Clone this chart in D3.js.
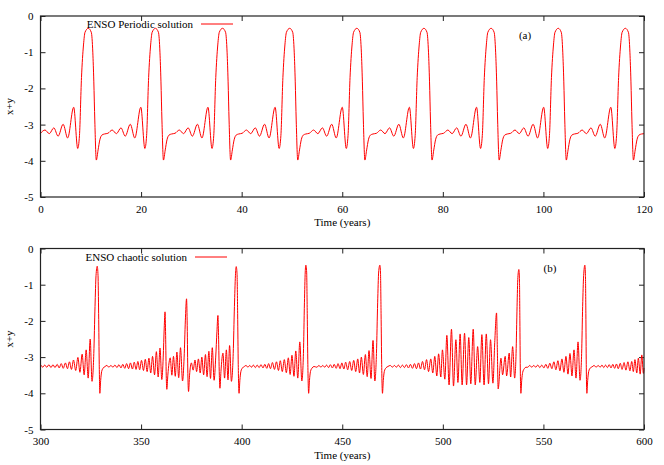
<!DOCTYPE html>
<html>
<head>
<meta charset="utf-8">
<script src="https://cdn.jsdelivr.net/npm/d3@7"></script>
<style>
  body { margin: 0; background: #fff; }
  text { font-family: "Liberation Serif", "Times New Roman", serif; font-size: 11px; fill: #000; }
</style>
</head>
<body>
<div id="chart"></div>
<script>
// ENSO periodic solution, [time (years), x+y]
var periodic = [
  [0,-3.24],[0.9,-3.15],[1.75,-3.25],[2.65,-3.09],[3.5,-3.32],[4.5,-2.99],[5.4,-3.37],[6.6,-2.52],[7.4,-3.66],[7.75,-3.30],[8.15,-1.70],[8.55,-0.80],[8.85,-0.45],[9.5,-0.34],[10.1,-0.45],[10.4,-1.00],[10.6,-1.80],[10.8,-2.90],
  [11.1,-3.98],[11.45,-3.70],[11.8,-3.42],[12.2,-3.29],[12.7,-3.26],[13.4,-3.24],[14.25,-3.15],[15.1,-3.25],[16.0,-3.09],[16.85,-3.32],[17.85,-2.99],[18.75,-3.37],[19.95,-2.52],[20.75,-3.66],[21.1,-3.30],[21.5,-1.70],[21.9,-0.80],[22.2,-0.45],[22.85,-0.34],[23.45,-0.45],[23.75,-1.00],[23.95,-1.80],[24.15,-2.90],
  [24.45,-3.98],[24.8,-3.70],[25.15,-3.42],[25.55,-3.29],[26.05,-3.26],[26.75,-3.24],[27.6,-3.15],[28.45,-3.25],[29.35,-3.09],[30.2,-3.32],[31.2,-2.99],[32.1,-3.37],[33.3,-2.52],[34.1,-3.66],[34.45,-3.30],[34.85,-1.70],[35.25,-0.80],[35.55,-0.45],[36.2,-0.34],[36.8,-0.45],[37.1,-1.00],[37.3,-1.80],[37.5,-2.90],
  [37.8,-3.98],[38.15,-3.70],[38.5,-3.42],[38.9,-3.29],[39.4,-3.26],[40.1,-3.24],[40.95,-3.15],[41.8,-3.25],[42.7,-3.09],[43.55,-3.32],[44.55,-2.99],[45.45,-3.37],[46.65,-2.52],[47.45,-3.66],[47.8,-3.30],[48.2,-1.70],[48.6,-0.80],[48.9,-0.45],[49.55,-0.34],[50.15,-0.45],[50.45,-1.00],[50.65,-1.80],[50.85,-2.90],
  [51.15,-3.98],[51.5,-3.70],[51.85,-3.42],[52.25,-3.29],[52.75,-3.26],[53.45,-3.24],[54.3,-3.15],[55.15,-3.25],[56.05,-3.09],[56.9,-3.32],[57.9,-2.99],[58.8,-3.37],[60.0,-2.52],[60.8,-3.66],[61.15,-3.30],[61.55,-1.70],[61.95,-0.80],[62.25,-0.45],[62.9,-0.34],[63.5,-0.45],[63.8,-1.00],[64.0,-1.80],[64.2,-2.90],
  [64.5,-3.98],[64.85,-3.70],[65.2,-3.42],[65.6,-3.29],[66.1,-3.26],[66.8,-3.24],[67.65,-3.15],[68.5,-3.25],[69.4,-3.09],[70.25,-3.32],[71.25,-2.99],[72.15,-3.37],[73.35,-2.52],[74.15,-3.66],[74.5,-3.30],[74.9,-1.70],[75.3,-0.80],[75.6,-0.45],[76.25,-0.34],[76.85,-0.45],[77.15,-1.00],[77.35,-1.80],[77.55,-2.90],
  [77.85,-3.98],[78.2,-3.70],[78.55,-3.42],[78.95,-3.29],[79.45,-3.26],[80.15,-3.24],[81.0,-3.15],[81.85,-3.25],[82.75,-3.09],[83.6,-3.32],[84.6,-2.99],[85.5,-3.37],[86.7,-2.52],[87.5,-3.66],[87.85,-3.30],[88.25,-1.70],[88.65,-0.80],[88.95,-0.45],[89.6,-0.34],[90.2,-0.45],[90.5,-1.00],[90.7,-1.80],[90.9,-2.90],
  [91.2,-3.98],[91.55,-3.70],[91.9,-3.42],[92.3,-3.29],[92.8,-3.26],[93.5,-3.24],[94.35,-3.15],[95.2,-3.25],[96.1,-3.09],[96.95,-3.32],[97.95,-2.99],[98.85,-3.37],[100.05,-2.52],[100.85,-3.66],[101.2,-3.30],[101.6,-1.70],[102.0,-0.80],[102.3,-0.45],[102.95,-0.34],[103.55,-0.45],[103.85,-1.00],[104.05,-1.80],[104.25,-2.90],
  [104.55,-3.98],[104.9,-3.70],[105.25,-3.42],[105.65,-3.29],[106.15,-3.26],[106.85,-3.24],[107.7,-3.15],[108.55,-3.25],[109.45,-3.09],[110.3,-3.32],[111.3,-2.99],[112.2,-3.37],[113.4,-2.52],[114.2,-3.66],[114.55,-3.30],[114.95,-1.70],[115.35,-0.80],[115.65,-0.45],[116.3,-0.34],[116.9,-0.45],[117.2,-1.00],[117.4,-1.80],[117.6,-2.90],
  [117.9,-3.98],[118.25,-3.70],[118.6,-3.42],[119.0,-3.29],[119.5,-3.26],[120,-3.25]
];

// ENSO chaotic solution, [time (years), x+y]
var chaotic = [
  [300,-3.25],[300.1,-3.22],[301.1,-3.28],[302.1,-3.22],[303.1,-3.28],[304.2,-3.21],[305.2,-3.29],[306.2,-3.21],[307.2,-3.29],[308.3,-3.20],[309.3,-3.30],[310.3,-3.18],[311.3,-3.31],
  [312.4,-3.16],[313.4,-3.32],[314.4,-3.13],[315.4,-3.34],[316.4,-3.08],[317.5,-3.37],[318.6,-3.01],[319.6,-3.42],[320.7,-2.92],[321.7,-3.49],[322.7,-2.80],[323.7,-3.58],[324.7,-2.50],[325.6,-3.67],
  [326.5,-2.90],[327.1,-1.60],[327.6,-0.75],[328.2,-0.49],[328.6,-0.75],[328.9,-1.80],[329.2,-3.20],[329.5,-4.00],[329.9,-3.65],[330.4,-3.40],[331.2,-3.30],[332.1,-3.26],
  [333.0,-3.23],[334.0,-3.28],[335.0,-3.23],[336.0,-3.28],[337.0,-3.22],[338.0,-3.29],[339.0,-3.21],[340.0,-3.30],[340.9,-3.20],[341.9,-3.31],[342.8,-3.18],[343.8,-3.32],[344.7,-3.16],[345.7,-3.33],
  [346.6,-3.14],[347.5,-3.34],[348.4,-3.12],[349.3,-3.35],[350.2,-3.09],[351.2,-3.37],[352.1,-3.06],[353.0,-3.40],[353.9,-3.03],[354.8,-3.44],[355.7,-2.98],[356.7,-3.49],[357.6,-2.85],[358.5,-3.55],[359.4,-2.75],[360.3,-3.62],
  [361.0,-3.00],[361.5,-2.20],[361.9,-1.75],[362.2,-2.40],[362.5,-3.50],[362.8,-3.89],[363.3,-3.50],
  [364.5,-3.02],[365.3,-3.50],[366.1,-2.98],[367.0,-3.53],[367.8,-2.86],[368.7,-3.57],[369.6,-2.74],[370.6,-3.66],
  [371.4,-3.00],[372.0,-2.00],[372.6,-1.39],[372.9,-2.00],[373.2,-3.30],[373.6,-3.95],[374.1,-3.50],
  [375.0,-3.16],[375.9,-3.36],[376.8,-3.08],[377.6,-3.40],[378.5,-3.05],[379.4,-3.44],[380.2,-3.00],[381.1,-3.49],[382.0,-2.93],[382.8,-3.54],[383.7,-2.84],[384.5,-3.59],[385.4,-2.74],[386.3,-3.64],
  [387.1,-3.00],[387.7,-2.30],[388.2,-1.85],[388.5,-2.40],[388.9,-3.50],[389.2,-3.86],[389.7,-3.40],
  [390.7,-2.89],[391.5,-3.58],[392.4,-2.80],[393.2,-3.63],[394.0,-2.68],[394.9,-3.67],
  [395.8,-2.90],[396.4,-1.60],[396.9,-0.75],[397.3,-0.50],[397.7,-0.70],[398.0,-1.80],[398.3,-3.20],[398.7,-4.00],[399.1,-3.65],[399.6,-3.40],[400.4,-3.30],[401.3,-3.26],
  [402.2,-3.23],[403.1,-3.28],[404.0,-3.23],[404.9,-3.28],[405.8,-3.22],[406.8,-3.29],[407.7,-3.22],[408.7,-3.29],[409.6,-3.21],[410.6,-3.30],[411.5,-3.20],[412.5,-3.31],[413.4,-3.18],[414.3,-3.32],
  [415.3,-3.15],[416.3,-3.34],[417.3,-3.13],[418.3,-3.37],[419.2,-3.10],[420.2,-3.40],[421.2,-3.07],[422.2,-3.43],[423.2,-3.02],[424.1,-3.48],[425.0,-2.95],[426.0,-3.53],[426.9,-2.83],[427.9,-3.58],[428.9,-2.58],[429.9,-3.66],
  [430.7,-2.90],[431.2,-1.50],[431.6,-0.65],[431.9,-0.46],[432.3,-0.65],[432.6,-1.80],[432.9,-3.20],[433.3,-4.00],[433.7,-3.65],[434.2,-3.40],[435.0,-3.30],[436.0,-3.26],
  [437.4,-3.28],[438.4,-3.23],[439.4,-3.28],[440.3,-3.23],[441.3,-3.28],[442.2,-3.22],[443.2,-3.29],[444.1,-3.21],[445.1,-3.30],[446.0,-3.20],[447.0,-3.31],[447.9,-3.18],[448.9,-3.32],[449.8,-3.16],[450.8,-3.33],
  [451.7,-3.14],[452.7,-3.35],[453.7,-3.12],[454.7,-3.37],[455.7,-3.09],[456.7,-3.40],[457.7,-3.05],[458.6,-3.44],[459.5,-3.00],[460.5,-3.48],[461.5,-2.93],[462.4,-3.54],[463.3,-2.82],[464.3,-3.59],[465.3,-2.54],[466.2,-3.66],
  [467.0,-2.90],[467.6,-1.50],[468.1,-0.65],[468.7,-0.46],[469.0,-0.65],[469.3,-1.80],[469.6,-3.20],[470.0,-4.00],[470.4,-3.65],[470.9,-3.40],[471.7,-3.30],[472.7,-3.26],
  [473.9,-3.23],[474.9,-3.28],[475.9,-3.23],[476.9,-3.28],[477.9,-3.22],[478.9,-3.29],[479.9,-3.22],[480.9,-3.29],[481.9,-3.21],[482.9,-3.30],[483.9,-3.20],[484.9,-3.31],[485.9,-3.18],[486.9,-3.32],[487.9,-3.16],[488.9,-3.33],
  [489.9,-3.12],[490.9,-3.35],[491.9,-3.07],[492.9,-3.40],[494.0,-3.05],[495.0,-3.44],[496.0,-2.98],[497.0,-3.52],[497.9,-2.91],[499.0,-3.55],[499.8,-2.80],[501.0,-3.61],
  [502.0,-2.40],[503.1,-3.77],[504.3,-2.23],[505.3,-3.80],[506.5,-2.52],[507.5,-3.70],[508.6,-2.36],[509.6,-3.77],[510.8,-2.34],[511.8,-3.77],[512.9,-2.46],[513.9,-3.74],
  [515.1,-2.23],[516.1,-3.77],[517.3,-2.71],[518.4,-3.70],[519.4,-2.38],[520.5,-3.77],[521.6,-2.36],[522.7,-3.74],[523.7,-2.52],[524.9,-3.72],
  [525.8,-2.60],[526.7,-1.78],[527.1,-2.80],[527.5,-3.88],
  [528.9,-3.03],[529.7,-3.49],[531.0,-2.98],[531.7,-3.52],[533.0,-2.89],[533.7,-3.55],[534.7,-2.71],[535.7,-3.58],
  [536.4,-2.90],[536.9,-1.60],[537.3,-0.80],[537.8,-0.58],[538.1,-0.90],[538.3,-2.00],[538.5,-3.30],[538.8,-4.00],[539.2,-3.65],[539.7,-3.42],[540.5,-3.32],[541.3,-3.28],[542.2,-3.28],
  [543.2,-3.23],[544.2,-3.28],[545.2,-3.23],[546.2,-3.28],[547.2,-3.22],[548.2,-3.29],[549.2,-3.22],[550.2,-3.30],[551.2,-3.20],[552.2,-3.31],
  [553.2,-3.17],[554.2,-3.32],[555.2,-3.13],[556.2,-3.35],[557.2,-3.10],[558.2,-3.38],[559.2,-3.05],[560.2,-3.42],[561.2,-2.98],[562.2,-3.47],[563.2,-2.90],[564.2,-3.52],[565.2,-2.80],[566.2,-3.58],[567.2,-2.58],[568.2,-3.64],
  [569.0,-2.90],[569.5,-1.60],[570.0,-0.75],[570.6,-0.46],[570.9,-0.75],[571.1,-1.80],[571.3,-3.20],[571.6,-4.00],[572.0,-3.65],[572.5,-3.40],[573.3,-3.30],[574.2,-3.27],
  [575.2,-3.23],[576.2,-3.28],[577.2,-3.23],[578.2,-3.28],[579.1,-3.22],[580.0,-3.29],[580.9,-3.22],[581.8,-3.29],[582.7,-3.21],[583.6,-3.30],[584.5,-3.20],[585.4,-3.31],
  [586.3,-3.19],[587.2,-3.32],[588.2,-3.17],[589.1,-3.34],[590.1,-3.15],[591.0,-3.36],[592.0,-3.13],[593.0,-3.38],[593.9,-3.12],[594.7,-3.40],[595.5,-3.07],[596.4,-3.44],[597.2,-3.03],[598.1,-3.47],[598.9,-2.94],[599.7,-3.45],[600,-3.30]
];

var periodicTicks = [0, 20, 40, 60, 80, 100, 120];
var chaoticTicks = [300, 350, 400, 450, 500, 550, 600];
var yTicks = [0, -1, -2, -3, -4, -5];

var FONT = "'Liberation Serif', 'Times New Roman', serif";

var svg = d3.select("#chart").append("svg")
    .attr("width", 664)
    .attr("height", 465);

function drawPanel(opt) {
  var x = d3.scaleLinear().domain(opt.xDomain).range([opt.left, opt.right]);
  var y = d3.scaleLinear().domain([-5, 0]).range([opt.bottom, opt.top]);
  var g = svg.append("g");

  // bottom axis with inward ticks + labels
  g.append("g")
    .attr("transform", "translate(0," + opt.bottom + ")")
    .call(d3.axisBottom(x).tickValues(opt.xTicks).tickSize(-5).tickPadding(8).tickFormat(function(d){ return String(d); }));
  // mirrored top ticks
  g.append("g")
    .attr("transform", "translate(0," + opt.top + ")")
    .call(d3.axisTop(x).tickValues(opt.xTicks).tickSize(-5).tickFormat(""));
  // left axis
  g.append("g")
    .attr("transform", "translate(" + opt.left + ",0)")
    .call(d3.axisLeft(y).tickValues(yTicks).tickSize(-5).tickPadding(7).tickFormat(function(d){ return String(d); }));
  // mirrored right ticks
  g.append("g")
    .attr("transform", "translate(" + opt.right + ",0)")
    .call(d3.axisRight(y).tickValues(yTicks).tickSize(-5).tickFormat(""));

  g.selectAll(".domain").remove();
  g.selectAll("g").attr("font-family", FONT).attr("font-size", 11);
  g.selectAll(".tick line").attr("stroke", "#222").attr("stroke-width", 1);
  g.selectAll(".tick text").attr("fill", "#111")
    .style("font-family", FONT).style("font-size", "11px");

  // the line
  g.append("path")
    .datum(opt.data)
    .attr("fill", "none")
    .attr("stroke", "#ff0000")
    .attr("stroke-width", 1)
    .attr("d", d3.line()
      .x(function(d) { return x(d[0]); })
      .y(function(d) { return y(d[1]); })
      .curve(d3.curveMonotoneX));

  // frame
  g.append("rect")
    .attr("x", opt.left).attr("y", opt.top)
    .attr("width", opt.right - opt.left).attr("height", opt.bottom - opt.top)
    .attr("fill", "none").attr("stroke", "#222").attr("stroke-width", 1.2);

  // legend
  g.append("text")
    .attr("x", opt.keyX).attr("y", opt.keyY + 4)
    .attr("text-anchor", "end")
    .text(opt.key);
  g.append("line")
    .attr("x1", opt.keyX + 8).attr("x2", opt.keyX + 40)
    .attr("y1", opt.keyY).attr("y2", opt.keyY)
    .attr("stroke", "#ff0000").attr("stroke-width", 1);

  // panel tag
  g.append("text")
    .attr("x", opt.tagX).attr("y", opt.tagY + 4)
    .attr("text-anchor", "middle")
    .text(opt.tag);

  // axis titles
  g.append("text")
    .attr("x", (opt.left + opt.right) / 2).attr("y", opt.bottom + 29)
    .attr("text-anchor", "middle")
    .text("Time (years)");
  g.append("text")
    .attr("transform", "translate(13," + ((opt.top + opt.bottom) / 2) + ") rotate(-90)")
    .attr("text-anchor", "middle")
    .text("x+y");
}

drawPanel({
  data: periodic, xDomain: [0, 120], xTicks: periodicTicks,
  left: 40.5, right: 644, top: 16, bottom: 197,
  key: "ENSO Periodic solution", keyX: 193, keyY: 24,
  tag: "(a)", tagX: 525, tagY: 35
});

drawPanel({
  data: chaotic, xDomain: [300, 600], xTicks: chaoticTicks,
  left: 40.5, right: 644, top: 248.5, bottom: 429.5,
  key: "ENSO chaotic solution", keyX: 187, keyY: 257,
  tag: "(b)", tagX: 550, tagY: 268
});
</script>
</body>
</html>
